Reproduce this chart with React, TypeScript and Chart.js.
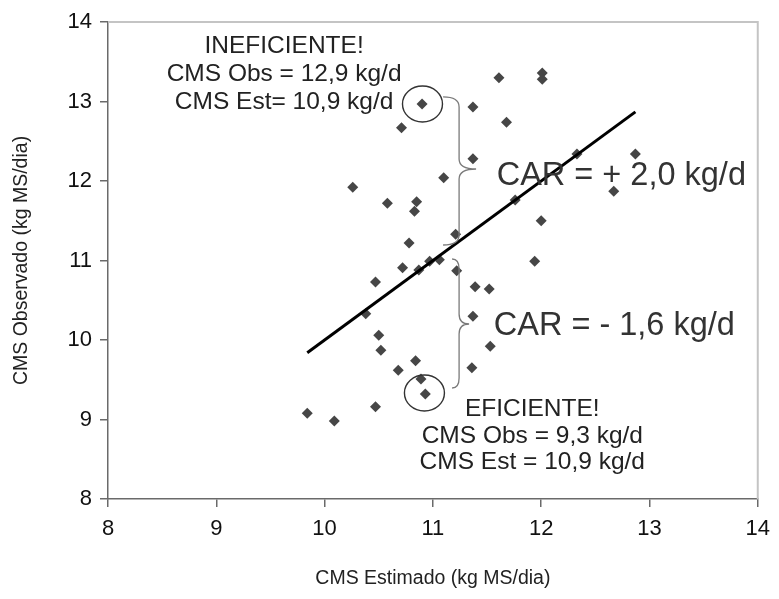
import React, { useEffect, useRef } from "react";
import { Chart, registerables } from "chart.js";

Chart.register(...registerables);

// ---- data ----
const xTickValues = [8, 9, 10, 11, 12, 13, 14];
const yTickValues = [8, 9, 10, 11, 12, 13, 14];

const cmsEstimado = [
  10.9, 11.61, 12.01, 12.01, 11.37, 11.68, 10.71, 12.33, 12.87, 11.37, 11.1,
  10.26, 12.67, 11.76, 10.58, 10.85, 10.83, 12.0, 11.21, 10.78, 11.94, 10.97,
  11.06, 10.87, 10.72, 11.22, 10.47, 11.39, 11.52, 10.38, 11.37, 10.5, 11.53,
  10.52, 10.84, 10.68, 11.36, 10.89, 10.93, 10.47, 9.84, 10.09,
];
const cmsObservado = [
  12.97, 13.3, 13.36, 13.28, 12.93, 12.74, 12.67, 12.34, 12.34, 12.28, 12.04,
  11.92, 11.87, 11.76, 11.72, 11.74, 11.62, 11.5, 11.33, 11.22, 10.99, 10.99,
  11.01, 10.88, 10.91, 10.87, 10.73, 10.67, 10.64, 10.33, 10.3, 10.06, 9.92,
  9.87, 9.74, 9.62, 9.65, 9.51, 9.32, 9.16, 9.08, 8.98,
];

const lineEstimado = [9.84, 12.87];
const lineObservado = [9.84, 12.87];

// annotation texts (anchored in data coordinates)
const ineficienteText = ["INEFICIENTE!", "CMS Obs = 12,9 kg/d", "CMS Est= 10,9 kg/d"];
const ineficienteX = 9.626;
const ineficienteY = [13.61, 13.252, 12.906];

const eficienteText = ["EFICIENTE!", "CMS Obs = 9,3 kg/d", "CMS Est = 10,9 kg/d"];
const eficienteX = 11.918;
const eficienteY = [9.044, 8.704, 8.377];

const carText = ["CAR = + 2,0 kg/d", "CAR = - 1,6 kg/d"];
const carX = [11.589, 11.562];
const carY = [11.95, 10.063];

// circled points
const circleX = [10.904, 10.922];
const circleY = [12.969, 9.333];

// braces: x, top, middle (tip), bottom
const braceX = [11.242, 11.242];
const braceTop = [13.057, 11.019];
const braceMid = [12.151, 10.201];
const braceBottom = [11.195, 9.396];

const FONT = "'Liberation Sans', Arial, Helvetica, sans-serif";

const annotationPlugin = {
  id: "annotations",
  afterDatasetsDraw(chart: any) {
    const { ctx, chartArea } = chart;
    const xs = chart.scales.x;
    const ys = chart.scales.y;
    ctx.save();

    // top & right frame lines
    ctx.strokeStyle = "#c4c4c4";
    ctx.lineWidth = 2;
    ctx.beginPath();
    ctx.moveTo(chartArea.left, chartArea.top);
    ctx.lineTo(chartArea.right, chartArea.top);
    ctx.lineTo(chartArea.right, chartArea.bottom);
    ctx.stroke();

    // circles
    ctx.strokeStyle = "#333";
    ctx.lineWidth = 1.4;
    for (let i = 0; i < circleX.length; i++) {
      ctx.beginPath();
      ctx.ellipse(
        xs.getPixelForValue(circleX[i]),
        ys.getPixelForValue(circleY[i]),
        20,
        18,
        0,
        0,
        Math.PI * 2
      );
      ctx.stroke();
    }

    // braces
    const armL = [16, 7];
    const armR = [17, 10];
    ctx.strokeStyle = "#7a7a7a";
    ctx.lineWidth = 1.3;
    for (let i = 0; i < braceX.length; i++) {
      const x = xs.getPixelForValue(braceX[i]);
      const t = ys.getPixelForValue(braceTop[i]);
      const m = ys.getPixelForValue(braceMid[i]);
      const b = ys.getPixelForValue(braceBottom[i]);
      const r = 10;
      ctx.beginPath();
      ctx.moveTo(x - armL[i], t);
      ctx.quadraticCurveTo(x, t, x, t + r);
      ctx.lineTo(x, m - r);
      ctx.quadraticCurveTo(x, m, x + armR[i], m);
      ctx.quadraticCurveTo(x, m, x, m + r);
      ctx.lineTo(x, b - r);
      ctx.quadraticCurveTo(x, b, x - armL[i], b);
      ctx.stroke();
    }

    // texts
    ctx.fillStyle = "#222";
    ctx.textBaseline = "alphabetic";
    ctx.font = `24.5px ${FONT}`;
    ctx.textAlign = "center";
    for (let i = 0; i < ineficienteText.length; i++) {
      ctx.fillText(
        ineficienteText[i],
        xs.getPixelForValue(ineficienteX),
        ys.getPixelForValue(ineficienteY[i])
      );
    }
    for (let i = 0; i < eficienteText.length; i++) {
      ctx.fillText(
        eficienteText[i],
        xs.getPixelForValue(eficienteX),
        ys.getPixelForValue(eficienteY[i])
      );
    }
    ctx.font = `32.5px ${FONT}`;
    ctx.textAlign = "left";
    ctx.fillStyle = "#333";
    for (let i = 0; i < carText.length; i++) {
      ctx.fillText(carText[i], xs.getPixelForValue(carX[i]), ys.getPixelForValue(carY[i]));
    }
    ctx.restore();
  },
};

export default function App() {
  const ref = useRef<HTMLCanvasElement | null>(null);

  useEffect(() => {
    if (!ref.current) return;
    const points = cmsEstimado.map((v, i) => ({ x: v, y: cmsObservado[i] }));
    const line = lineEstimado.map((v, i) => ({ x: v, y: lineObservado[i] }));

    const axisCommon = {
      type: "linear" as const,
      min: 8,
      max: 14,
      grid: {
        display: true,
        drawOnChartArea: false,
        drawTicks: true,
        tickLength: 8,
        color: "#6a6a6a",
        lineWidth: 1.5,
      },
      border: { display: true, color: "#6a6a6a", width: 1.5 },
    };

    const chart = new Chart(ref.current, {
      type: "scatter",
      data: {
        datasets: [
          {
            type: "scatter",
            label: "CMS",
            data: points,
            pointStyle: "rectRot",
            pointRadius: 5.5,
            pointBackgroundColor: "#464646",
            pointBorderColor: "#464646",
            pointBorderWidth: 0,
            order: 2,
          },
          {
            type: "line",
            label: "Linha",
            data: line,
            borderColor: "#000",
            borderWidth: 3,
            pointRadius: 0,
            showLine: true,
            fill: false,
            order: 1,
          } as any,
        ],
      },
      options: {
        responsive: false,
        animation: false,
        layout: { padding: { top: 22, right: 14, left: 0, bottom: 0 } },
        plugins: {
          legend: { display: false },
          tooltip: { enabled: false },
        },
        scales: {
          x: {
            ...axisCommon,
            position: "bottom",
            afterBuildTicks: (s: any) => {
              s.ticks = xTickValues.map((v) => ({ value: v }));
            },
            afterFit: (s: any) => {
              s.height = 100;
            },
            ticks: {
              font: { family: FONT, size: 22 },
              color: "#111",
              padding: 9,
              maxRotation: 0,
            },
            title: {
              display: true,
              text: "CMS Estimado (kg MS/dia)",
              font: { family: FONT, size: 19.5 },
              color: "#222",
              padding: { top: 0, bottom: 9 },
            },
          },
          y: {
            ...axisCommon,
            position: "left",
            afterBuildTicks: (s: any) => {
              s.ticks = yTickValues.map((v) => ({ value: v }));
            },
            afterFit: (s: any) => {
              s.width = 108;
            },
            ticks: {
              font: { family: FONT, size: 22 },
              color: "#111",
              padding: 8,
            },
            title: {
              display: true,
              text: "CMS Observado (kg MS/dia)",
              font: { family: FONT, size: 19.5 },
              color: "#222",
              padding: { top: 10, bottom: 0 },
            },
          },
        },
      },
      plugins: [annotationPlugin],
    });
    return () => chart.destroy();
  }, []);

  return (
    <div style={{ position: "absolute", left: 0, top: 0, width: 779, height: 599, background: "#fff" }}>
      <canvas ref={ref} width={779} height={599} style={{ display: "block" }} />
    </div>
  );
}
